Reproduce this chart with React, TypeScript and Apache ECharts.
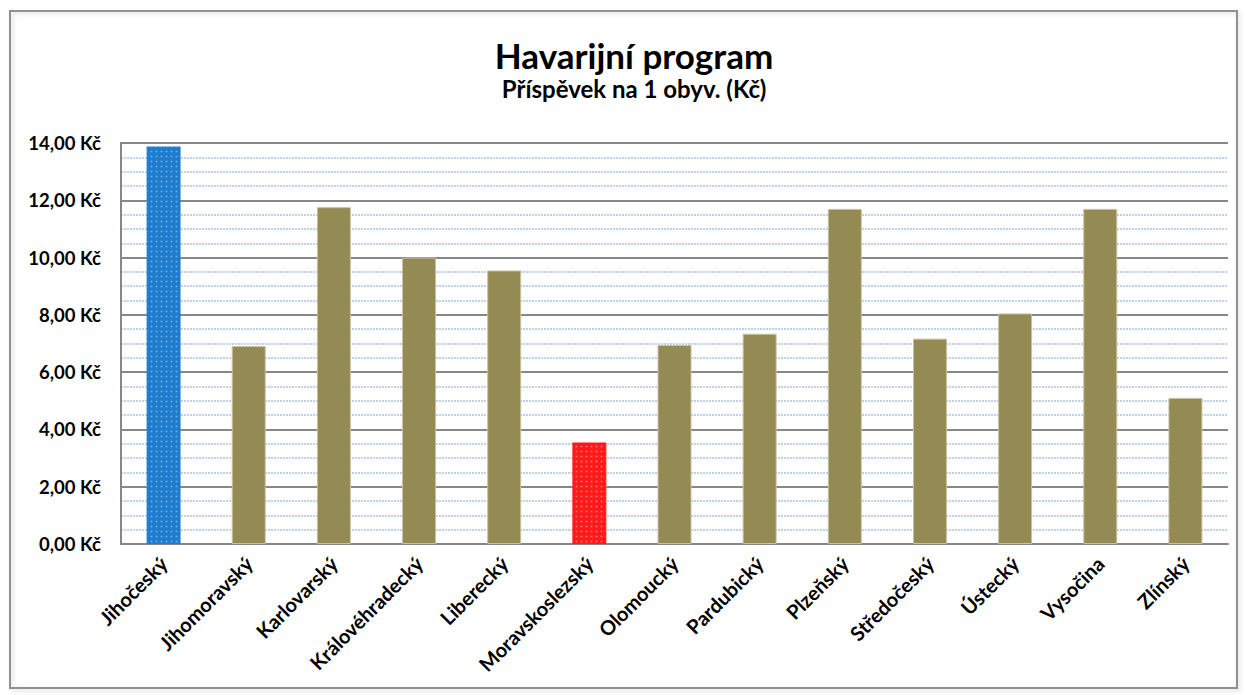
import React, { useEffect, useRef } from "react";
import * as echarts from "echarts";

const categories = [
  "Jihočeský",
  "Jihomoravský",
  "Karlovarský",
  "Královéhradecký",
  "Liberecký",
  "Moravskoslezský",
  "Olomoucký",
  "Pardubický",
  "Plzeňský",
  "Středočeský",
  "Ústecký",
  "Vysočina",
  "Zlínský",
];

const values = [13.88, 6.91, 11.76, 10.0, 9.55, 3.54, 6.95, 7.34, 11.7, 7.17, 8.05, 11.7, 5.1];

const highestRegion = "Jihočeský";
const lowestRegion = "Moravskoslezský";

const yTicks = [0, 2, 4, 6, 8, 10, 12, 14];

const titleText = "Havarijní program";
const subtitleText = "Příspěvek na 1 obyv. (Kč)";

const FONT = "Lato, 'Open Sans', sans-serif";

export default function App() {
  const ref = useRef<HTMLDivElement>(null);

  useEffect(() => {
    if (!ref.current) return;
    const chart = echarts.init(ref.current, undefined, { renderer: "svg" });

    const olive = "#948A54";
    const data = values.map((v, i) => {
      const name = categories[i];
      if (name === highestRegion) {
        return {
          value: v,
          itemStyle: {
            color: "#1f7ccc",
            borderWidth: 0,
            decal: {
              symbol: "rect",
              symbolSize: 0.55,
              color: "rgba(190,220,250,0.55)",
              dashArrayX: [3, 2],
              dashArrayY: [3, 2],
              rotation: 0,
            },
          },
        };
      }
      if (name === lowestRegion) {
        return {
          value: v,
          itemStyle: {
            color: "#ff1a1a",
            borderWidth: 0,
            decal: {
              symbol: "rect",
              symbolSize: 0.55,
              color: "rgba(255,190,190,0.6)",
              dashArrayX: [3, 2],
              dashArrayY: [3, 2],
              rotation: 0,
            },
          },
        };
      }
      return {
        value: v,
        itemStyle: { color: olive, borderColor: "#c9c29f", borderWidth: 1 },
      };
    });

    const option = {
      animation: false,
      backgroundColor: "#ffffff",
      textStyle: { fontFamily: FONT },
      graphic: [
        {
          type: "rect",
          shape: { x: 10, y: 11, width: 1227, height: 677 },
          style: {
            fill: "none",
            stroke: "#909090",
            lineWidth: 2,
            shadowBlur: 4,
            shadowColor: "rgba(0,0,0,0.15)",
            shadowOffsetX: 2,
            shadowOffsetY: 2,
          },
          silent: true,
          z: -1,
        },
        {
          type: "text",
          x: 634,
          y: 55,
          style: {
            text: titleText,
            fontFamily: FONT,
            fontWeight: "bold",
            fontSize: 35,
            fill: "#000",
            textAlign: "center",
            textVerticalAlign: "middle",
          },
        },
        {
          type: "text",
          x: 634,
          y: 88,
          style: {
            text: subtitleText,
            fontFamily: FONT,
            fontWeight: "bold",
            fontSize: 24,
            fill: "#000",
            textAlign: "center",
            textVerticalAlign: "middle",
          },
        },
      ],
      grid: { left: 121, right: 18, top: 143, bottom: 151, containLabel: false },
      xAxis: {
        type: "category",
        data: categories,
        axisLine: { show: true, lineStyle: { color: "#878787", width: 2 } },
        axisTick: { show: false },
        axisLabel: {
          rotate: 45,
          interval: 0,
          margin: 16,
          color: "#000",
          fontFamily: FONT,
          fontWeight: "bold",
          fontSize: 20,
        },
      },
      yAxis: {
        type: "value",
        min: yTicks[0],
        max: yTicks[yTicks.length - 1],
        interval: 2,
        axisLine: { show: true, lineStyle: { color: "#878787", width: 2 } },
        axisTick: { show: false },
        axisLabel: {
          margin: 20,
          color: "#000",
          fontFamily: FONT,
          fontWeight: "bold",
          fontSize: 18.5,
          formatter: (v: number) => v.toFixed(2).replace(".", ",") + " Kč",
        },
        splitLine: { show: true, lineStyle: { color: "#878787", width: 2 } },
        minorTick: { show: false, splitNumber: 4 },
        minorSplitLine: {
          show: true,
          lineStyle: { color: "#a9c1e4", width: 1.5, type: [2, 1] },
        },
      },
      series: [
        {
          type: "bar",
          data,
          barWidth: 34,
          z: 3,
        },
      ],
    };

    chart.setOption(option as any);
    return () => chart.dispose();
  }, []);

  return (
    <div
      ref={ref}
      style={{ position: "fixed", left: 0, top: 0, width: 1246, height: 695 }}
    />
  );
}
